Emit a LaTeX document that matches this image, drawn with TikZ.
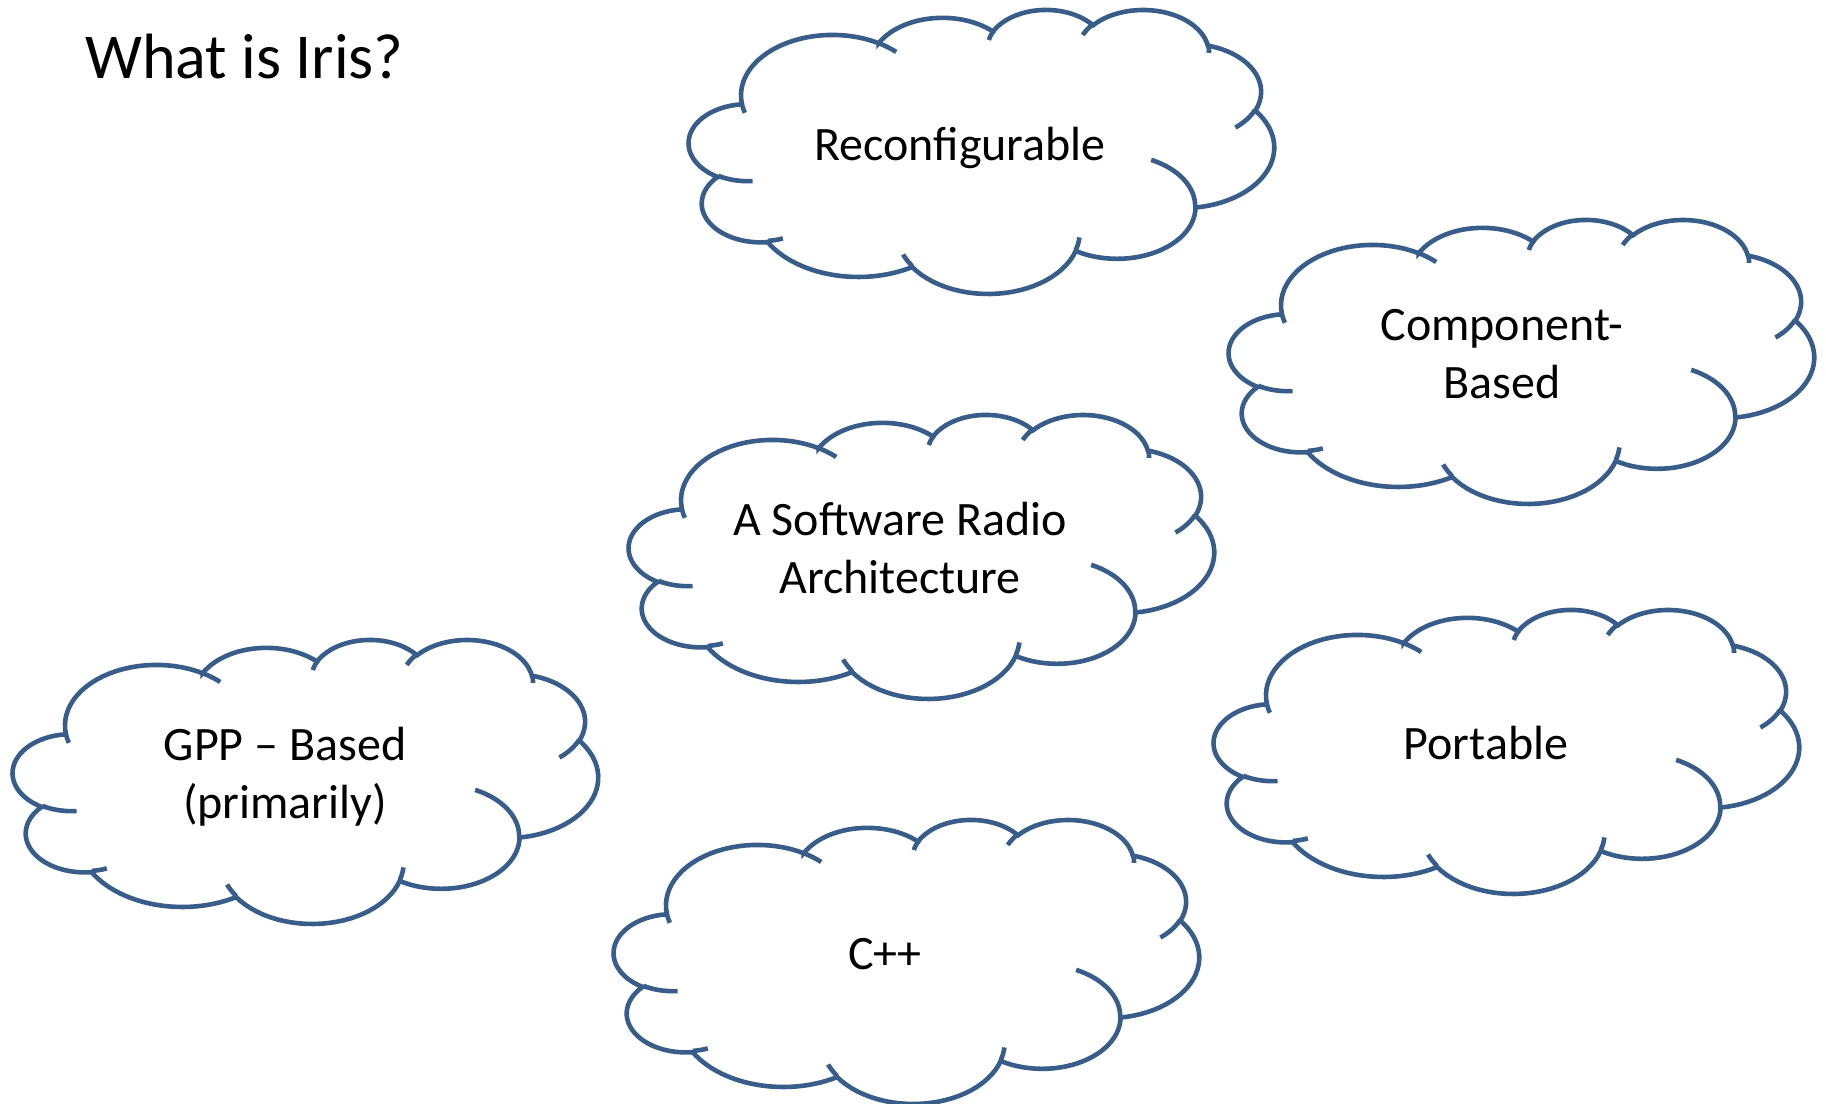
\documentclass[tikz,border=0pt]{standalone}
\usepackage{fontspec}
\setmainfont{Carlito}
\definecolor{cloudblue}{HTML}{385D8A}
% ---- PowerPoint cloud geometry (43.2 x 43.2 box), arcs with visual angles ----
\def\irisArc#1#2#3#4#5{% #1 connector, #2 rx, #3 ry, #4 start, #5 sweep
  \pgfmathsetmacro\irisTa{atan2((#2)*sin(#4),(#3)*cos(#4))}%
  \pgfmathsetmacro\irisTb{\irisTa+mod(atan2((#2)*sin((#4)+(#5)),(#3)*cos((#4)+(#5)))-\irisTa+720,360)}%
  \pgfmathsetmacro\irisCx{\irisX-(#2)*cos(\irisTa)}%
  \pgfmathsetmacro\irisCy{\irisY-(#3)*sin(\irisTa)}%
  \xdef\irisPath{\unexpanded\expandafter{\irisPath} #1 plot[domain=\irisTa:\irisTb, samples=28, variable=\noexpand\irisT] ({\irisCx+#2*cos(\noexpand\irisT)},{\irisCy+#3*sin(\noexpand\irisT)})}%
  \pgfmathsetmacro\irisX{\irisCx+(#2)*cos(\irisTb)}%
  \pgfmathsetmacro\irisY{\irisCy+(#3)*sin(\irisTb)}%
}
\def\irisMove#1#2{\def\irisX{#1}\def\irisY{#2}}
% outline
\def\irisPath{(3.9,14.37)}\irisMove{3.9}{14.37}
\irisArc{--}{6.753}{9.19}{-190.48748}{123.78053}
\irisArc{--}{5.333}{7.267}{-144.10238}{89.94523}
\irisArc{--}{4.365}{5.945}{-145.80792}{99.72302}
\irisArc{--}{4.857}{6.595}{-130.98607}{117.24173}
\irisArc{--}{5.333}{7.273}{-78.70888}{109.02692}
\irisArc{--}{6.775}{9.22}{-46.26725}{130.269}
\irisArc{--}{5.785}{7.867}{0.62502}{114.03333}
\irisArc{--}{6.752}{9.215}{22.4624}{115.17255}
\irisArc{--}{7.72}{10.543}{66.24263}{75.71102}
\irisArc{--}{4.36}{5.918}{-274.94208}{146.73557}
\irisArc{--}{4.345}{5.945}{-246.8285}{152.51885}
\xdef\irisOutline{\unexpanded\expandafter{\irisPath} -- cycle}
% inner arcs
\def\irisPath{}
\irisMove{4.693}{26.177}\irisArc{}{4.345}{5.945}{86.742}{26.4295}
\irisMove{6.928}{34.899}\irisArc{}{4.36}{5.918}{73.61047}{11.44747}
\irisMove{16.478}{39.09}\irisArc{}{6.752}{9.215}{137.62415}{14.0811}
\irisMove{28.827}{34.751}\irisArc{}{6.752}{9.215}{6.45327}{15.99835}
\irisMove{34.129}{22.954}\irisArc{}{5.785}{7.867}{-70.29235}{70.91737}
\irisMove{41.798}{15.354}\irisArc{}{5.333}{7.273}{30.31803}{27.7515}
\irisMove{38.324}{5.426}\irisArc{}{4.857}{6.595}{-13.74433}{14.85458}
\irisMove{29.078}{3.952}\irisArc{}{4.857}{6.595}{-149.18145}{18.19537}
\irisMove{22.141}{4.72}\irisArc{}{4.365}{5.945}{-163.49427}{17.68635}
\irisMove{14}{5.192}\irisArc{}{6.753}{9.19}{-66.70695}{12.31935}
\irisMove{4.127}{15.789}\irisArc{}{6.753}{9.19}{157.65435}{11.85817}
\let\irisInner\irisPath
\tikzset{
  cloudline/.style={draw=cloudblue, line width=4.6pt},
  cloudtext/.style={font=\fontsize{48}{58}\selectfont, anchor=base, inner sep=0pt},
  titletext/.style={font=\fontsize{64}{76}\selectfont, anchor=base west, inner sep=0pt},
  cloudbox/.style={xscale=0.135417, yscale=0.065741},
  pics/iriscloud/.style={code={
    \path[cloudline, fill=white] \irisOutline;
    \path[cloudline] \irisInner;
  }},
}
\begin{document}
% 1 unit = 100 px of the reference (1 px = 1 pt)
\begin{tikzpicture}[scale=3.51459, yscale=-1]
  \fill[white] (0,0) rectangle (18.26,11.04);
  \useasboundingbox (0,0) rectangle (18.26,11.04);
  % clouds
  \begin{scope}[shift={(6.89,0.09)}, cloudbox]
    \pic[transform shape] {iriscloud};
  \end{scope}
  \begin{scope}[shift={(12.29,2.19)}, cloudbox]
    \pic[transform shape] {iriscloud};
  \end{scope}
  \begin{scope}[shift={(6.29,4.14)}, cloudbox]
    \pic[transform shape] {iriscloud};
  \end{scope}
  \begin{scope}[shift={(0.13,6.39)}, cloudbox]
    \pic[transform shape] {iriscloud};
  \end{scope}
  \begin{scope}[shift={(12.14,6.09)}, cloudbox]
    \pic[transform shape] {iriscloud};
  \end{scope}
  \begin{scope}[shift={(6.14,8.19)}, cloudbox]
    \pic[transform shape] {iriscloud};
  \end{scope}
  % texts
  \node[titletext] (title) at (0.85,0.79) {What is Iris?};
  \node[cloudtext] (reconf) at (9.60,1.60) {Reconfigurable};
  \node[cloudtext] (compb) at (15.02,3.98) {\begin{tabular}[b]{@{}c@{}}Component-\\Based\end{tabular}};
  \node[cloudtext] (swradio) at (9.00,5.93) {\begin{tabular}[b]{@{}c@{}}A Software Radio\\Architecture\end{tabular}};
  \node[cloudtext] (gpp) at (2.85,8.18) {\begin{tabular}[b]{@{}c@{}}GPP – Based\\(primarily)\end{tabular}};
  \node[cloudtext] (portable) at (14.86,7.59) {Portable};
  \node[cloudtext] (cpp) at (8.85,9.69) {C++};
\end{tikzpicture}
\end{document}
